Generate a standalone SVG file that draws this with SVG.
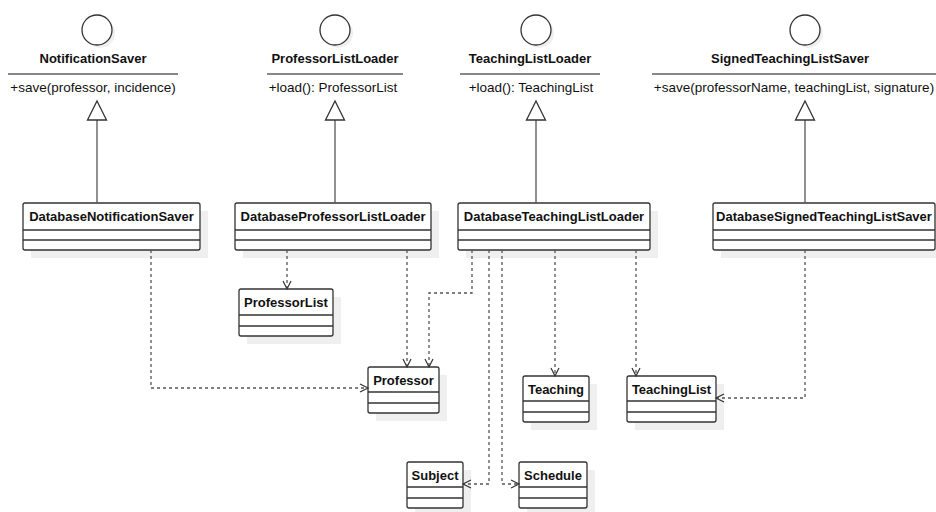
<svg xmlns="http://www.w3.org/2000/svg" width="936" height="512" viewBox="0 0 936 512">
  <defs>
    <style>
      text { font-family: "Liberation Sans", Arial, sans-serif; fill: #111; }
      .title { font-size: 13px; font-weight: bold; text-anchor: middle; }
      .op { font-size: 13.5px; text-anchor: middle; }
      .box { fill: #fff; stroke: #333; stroke-width: 1.3; }
      .row { stroke: #333; stroke-width: 1.3; fill: none; }
      .shadow { fill: #efefef; stroke: none; }
      .sep { stroke: #888; stroke-width: 2; }
      .iface { fill: #fff; stroke: #333; stroke-width: 1.3; }
      .gen { stroke: #555; stroke-width: 1.3; fill: none; }
      .tri { fill: #fff; stroke: #333; stroke-width: 1.3; }
      .dep { stroke: #555; stroke-width: 1.3; fill: none; stroke-dasharray: 3 3; marker-end: url(#open); }
    </style>
    <marker id="open" viewBox="-10 -6 12 12" refX="0" refY="0" markerWidth="12" markerHeight="12" markerUnits="userSpaceOnUse" orient="auto">
      <path d="M-8,-4 L0,0 L-8,4" fill="none" stroke="#333" stroke-width="1.2" stroke-dasharray="none"/>
    </marker>
  </defs>

  <!-- interfaces -->
  <g id="NotificationSaver">
    <circle class="shadow" cx="100" cy="33" r="15"/>
    <circle class="iface" cx="97" cy="30" r="15"/>
    <text class="title" x="93" y="63">NotificationSaver</text>
    <line class="sep" x1="8" y1="74" x2="178" y2="74"/>
    <text class="op" x="93" y="92">+save(professor, incidence)</text>
  </g>
  <g id="ProfessorListLoader">
    <circle class="shadow" cx="338" cy="33" r="15"/>
    <circle class="iface" cx="335" cy="30" r="15"/>
    <text class="title" x="335" y="63">ProfessorListLoader</text>
    <line class="sep" x1="267" y1="74" x2="403" y2="74"/>
    <text class="op" x="333" y="92">+load(): ProfessorList</text>
  </g>
  <g id="TeachingListLoader">
    <circle class="shadow" cx="539" cy="33" r="15"/>
    <circle class="iface" cx="536" cy="30" r="15"/>
    <text class="title" x="530" y="63">TeachingListLoader</text>
    <line class="sep" x1="460" y1="74" x2="600" y2="74"/>
    <text class="op" x="531" y="92">+load(): TeachingList</text>
  </g>
  <g id="SignedTeachingListSaver">
    <circle class="shadow" cx="808" cy="33" r="15"/>
    <circle class="iface" cx="805" cy="30" r="15"/>
    <text class="title" x="790" y="63">SignedTeachingListSaver</text>
    <line class="sep" x1="652" y1="74" x2="936" y2="74"/>
    <text class="op" x="794" y="92">+save(professorName, teachingList, signature)</text>
  </g>

  <!-- implementing classes -->
  <g id="DatabaseNotificationSaver">
    <rect class="shadow" x="31" y="211" width="177" height="47"/>
    <rect class="box" x="23" y="203" width="177" height="47" rx="2"/>
    <path class="row" d="M23,230 H200 M23,240 H200"/>
    <text class="title" x="111.5" y="221">DatabaseNotificationSaver</text>
  </g>
  <g id="DatabaseProfessorListLoader">
    <rect class="shadow" x="243" y="211" width="196" height="47"/>
    <rect class="box" x="235" y="203" width="196" height="47" rx="2"/>
    <path class="row" d="M235,230 H431 M235,240 H431"/>
    <text class="title" x="333" y="221">DatabaseProfessorListLoader</text>
  </g>
  <g id="DatabaseTeachingListLoader">
    <rect class="shadow" x="466" y="211" width="192" height="47"/>
    <rect class="box" x="458" y="203" width="192" height="47" rx="2"/>
    <path class="row" d="M458,230 H650 M458,240 H650"/>
    <text class="title" x="554" y="221">DatabaseTeachingListLoader</text>
  </g>
  <g id="DatabaseSignedTeachingListSaver">
    <rect class="shadow" x="721" y="211" width="222" height="47"/>
    <rect class="box" x="713" y="203" width="222" height="47" rx="2"/>
    <path class="row" d="M713,230 H935 M713,240 H935"/>
    <text class="title" x="824" y="221">DatabaseSignedTeachingListSaver</text>
  </g>

  <!-- domain classes -->
  <g id="ProfessorList">
    <rect class="shadow" x="247" y="297" width="94" height="47"/>
    <rect class="box" x="239" y="289" width="94" height="47" rx="2"/>
    <path class="row" d="M239,315 H333 M239,326 H333"/>
    <text class="title" x="286" y="307">ProfessorList</text>
  </g>
  <g id="Professor">
    <rect class="shadow" x="376" y="375" width="71" height="46"/>
    <rect class="box" x="368" y="367" width="71" height="46" rx="2"/>
    <path class="row" d="M368,392 H439 M368,403 H439"/>
    <text class="title" x="403.5" y="385">Professor</text>
  </g>
  <g id="Teaching">
    <rect class="shadow" x="531" y="384" width="66" height="46"/>
    <rect class="box" x="523" y="376" width="66" height="46" rx="2"/>
    <path class="row" d="M523,401 H589 M523,412 H589"/>
    <text class="title" x="556" y="394">Teaching</text>
  </g>
  <g id="TeachingList">
    <rect class="shadow" x="635" y="384" width="89" height="46"/>
    <rect class="box" x="627" y="376" width="89" height="46" rx="2"/>
    <path class="row" d="M627,401 H716 M627,412 H716"/>
    <text class="title" x="671.5" y="394">TeachingList</text>
  </g>
  <g id="Subject">
    <rect class="shadow" x="415" y="470" width="56" height="46"/>
    <rect class="box" x="407" y="462" width="56" height="46" rx="2"/>
    <path class="row" d="M407,487 H463 M407,498 H463"/>
    <text class="title" x="435" y="480">Subject</text>
  </g>
  <g id="Schedule">
    <rect class="shadow" x="527" y="470" width="68" height="46"/>
    <rect class="box" x="519" y="462" width="68" height="46" rx="2"/>
    <path class="row" d="M519,487 H587 M519,498 H587"/>
    <text class="title" x="553" y="480">Schedule</text>
  </g>

  <!-- connectors -->
  <g id="connectors">
    <!-- realizations -->
    <line class="gen" x1="97" y1="120" x2="97" y2="203"/>
    <path class="tri" d="M97,101 L106.5,120 L87.5,120 Z"/>
    <line class="gen" x1="335" y1="120" x2="335" y2="203"/>
    <path class="tri" d="M335,101 L344.5,120 L325.5,120 Z"/>
    <line class="gen" x1="536" y1="120" x2="536" y2="203"/>
    <path class="tri" d="M536,101 L545.5,120 L526.5,120 Z"/>
    <line class="gen" x1="805" y1="120" x2="805" y2="203"/>
    <path class="tri" d="M805,101 L814.5,120 L795.5,120 Z"/>

    <!-- dependencies -->
    <path class="dep" d="M151,250 V388 H368"/>
    <path class="dep" d="M287,250 V289"/>
    <path class="dep" d="M407,250 V367"/>
    <path class="dep" d="M472,250 V293 H429 V367"/>
    <path class="dep" d="M489,250 V484 H463"/>
    <path class="dep" d="M502,250 V484 H519"/>
    <path class="dep" d="M555,250 V376"/>
    <path class="dep" d="M636,250 V376"/>
    <path class="dep" d="M805,250 V398 H716"/>
  </g>
</svg>
